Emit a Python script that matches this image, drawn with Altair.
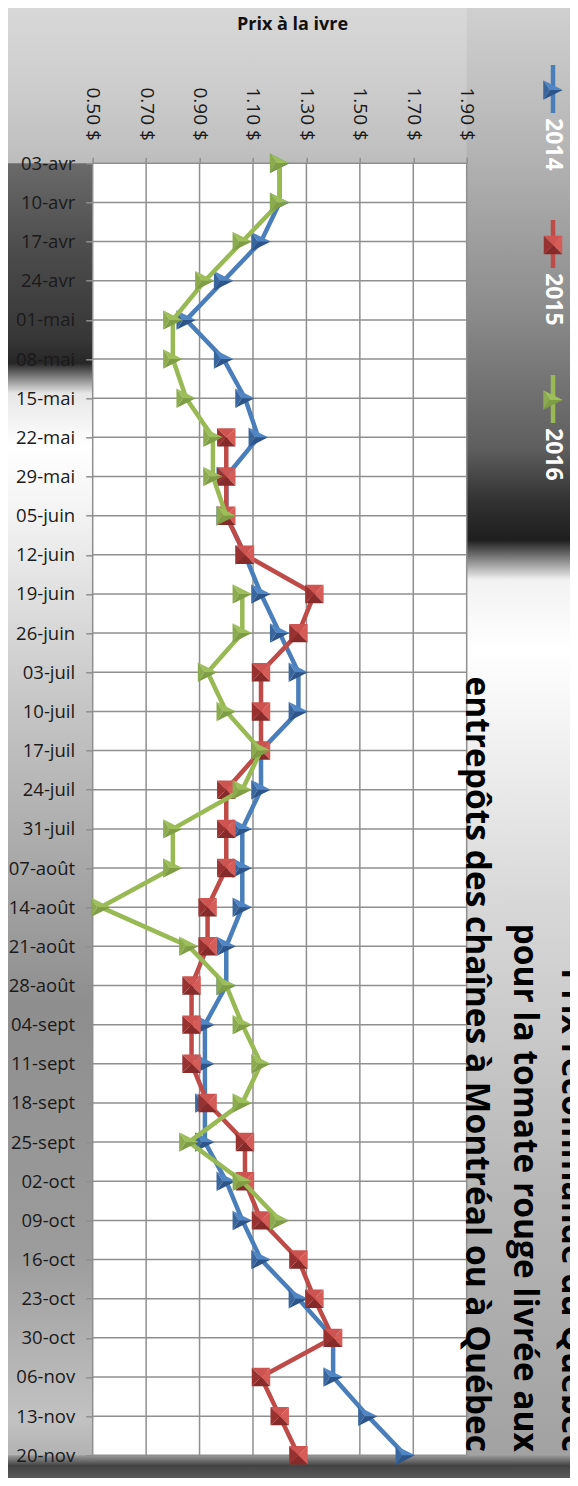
import altair as alt
import pandas as pd

# ---------------- data ----------------
dates = ["03-avr", "10-avr", "17-avr", "24-avr", "01-mai", "08-mai", "15-mai",
         "22-mai", "29-mai", "05-juin", "12-juin", "19-juin", "26-juin", "03-juil",
         "10-juil", "17-juil", "24-juil", "31-juil", "07-août", "14-août", "21-août",
         "28-août", "04-sept", "11-sept", "18-sept", "25-sept", "02-oct", "09-oct",
         "16-oct", "23-oct", "30-oct", "06-nov", "13-nov", "20-nov"]

price_2014 = [1.20, 1.20, 1.13, 0.99, 0.85, 0.99, 1.07, 1.12, 1.00, 1.00, 1.07, 1.13,
              1.20, 1.27, 1.27, 1.13, 1.13, 1.06, 1.06, 1.06, 1.00, 1.00, 0.92, 0.92,
              0.92, 0.92, 1.00, 1.06, 1.13, 1.27, 1.40, 1.40, 1.53, 1.67]

price_2015 = [None, None, None, None, None, None, None,
              1.00, 1.00, 1.00, 1.07, 1.33, 1.27, 1.13, 1.13, 1.13, 1.00, 1.00, 1.00,
              0.93, 0.93, 0.87, 0.87, 0.87, 0.93, 1.07, 1.07, 1.13, 1.27, 1.33, 1.40,
              1.13, 1.20, 1.27]

price_2016 = [1.20, 1.20, 1.06, 0.92, 0.80, 0.80, 0.85, 0.95, 0.95, 1.00, None, 1.06,
              1.06, 0.93, 1.00, 1.13, 1.06, 0.80, 0.80, 0.53, 0.86, 1.00, 1.06, 1.13,
              1.06, 0.86, 1.06, 1.20, None, None, None, None, None, None]

x_ticks = [0.50, 0.70, 0.90, 1.10, 1.30, 1.50, 1.70, 1.90]
series_names = ["2014", "2015", "2016"]
axis_title = "Prix à la ivre"
title_lines = ["Prix recommandé du Québec",
               "pour la tomate rouge livrée aux",
               "entrepôts des chaînes à Montréal ou à Québec"]

# ---------------- layout / style ----------------
W, H = 374, 1292
PAD_L, PAD_T, PAD_R, PAD_B = 84.7, 155.3, 103.3, 22.7
FONT = "Open Sans"
GRID = "#8f8f8f"

TRI = {"top": "M-1,-1L1,0L-0.33,0Z", "bottom": "M-1,1L1,0L-0.33,0Z", "left": "M-1,-1L-1,1L-0.33,0Z"}
SQ = {"top": "M-1,-1L1,-1L0,0Z", "right": "M1,-1L1,1L0,0Z",
      "bottom": "M-1,1L1,1L0,0Z", "left": "M-1,-1L-1,1L0,0Z"}

styles = {
    "2014": dict(line="#4A7EBB", shape=TRI, size=380,
                 facets={"top": "#5186C4", "bottom": "#2D5589", "left": "#3A669E"}),
    "2015": dict(line="#BE4B48", shape=SQ, size=340,
                 facets={"top": "#CD5450", "right": "#D65C58", "bottom": "#862B29", "left": "#983230"}),
    "2016": dict(line="#98B954", shape=TRI, size=380,
                 facets={"top": "#9DBE5A", "bottom": "#7F9D45", "left": "#8CAB4F"}),
}
values_by_series = {"2014": price_2014, "2015": price_2015, "2016": price_2016}


def series_frame(values):
    rows, seg = [], 0
    for i, (d, v) in enumerate(zip(dates, values)):
        if v is None:
            seg += 1
            continue
        rows.append({"date": d, "price": v, "seg": seg, "idx": i})
    return pd.DataFrame(rows)


one = pd.DataFrame({"k": [0]})

x_enc = alt.X("price:Q",
              scale=alt.Scale(domain=[x_ticks[0], x_ticks[-1]], nice=False, zero=False),
              axis=alt.Axis(orient="top", values=x_ticks,
                            labelExpr="format(datum.value, '.2f') + ' $'",
                            labelAngle=90, labelAlign="right", labelBaseline="middle",
                            labelFont=FONT, labelFontSize=19, labelColor="#1a1a1a",
                            labelPadding=17, tickSize=6, tickColor=GRID, tickWidth=1.5,
                            domain=False, grid=False, zindex=1,
                            title=axis_title, titleFont=FONT, titleFontSize=18,
                            titleFontWeight="bold", titleColor="#111111",
                            titleX=199.3, titleY=-134, titleAlign="center",
                            titleBaseline="alphabetic", labelOverlap=False))
y_enc = alt.Y("date:N",
              scale=alt.Scale(type="point", domain=dates, padding=0),
              axis=alt.Axis(title=None, labelFont=FONT, labelFontSize=18.5,
                            labelColor="#1a1a1a", labelPadding=11, tickSize=7,
                            tickColor=GRID, tickWidth=1.5, domain=False, grid=False,
                            zindex=1, labelAlign="right", labelBaseline="middle",
                            labelOverlap=False))


def grad(stops):
    return alt.LinearGradient(
        gradient="linear",
        stops=[alt.GradientStop(offset=o, color=c) for o, c in stops],
        x1=0, x2=0, y1=0, y2=1)


layers = []

# background decoration around the plot
layers.append(alt.Chart(one).mark_rect(fill=grad([(0, "#d8d8d8"), (0.5, "#cdcdcd"), (1, "#bdbdbd")])).encode(
    x=alt.value(-PAD_L), x2=alt.value(W + PAD_R), y=alt.value(-PAD_T), y2=alt.value(0)))
layers.append(alt.Chart(one).mark_rect(fill=grad([
    (0, "#6a6a6a"), (0.066, "#4c4c4c"), (0.135, "#363636"), (0.152, "#262626"),
    (0.175, "#e6e6e6"), (0.215, "#ffffff"), (0.27, "#f2f2f2"), (0.41, "#c6c6c6"),
    (0.64, "#8e8e8e"), (0.83, "#9c9c9c"), (0.955, "#c2c2c2"), (1, "#a8a8a8")])).encode(
    x=alt.value(-PAD_L), x2=alt.value(0), y=alt.value(0), y2=alt.value(H + PAD_B)))
layers.append(alt.Chart(one).mark_rect(fill=grad([
    (0, "#d0d0d0"), (0.097, "#b4b4b4"), (0.2, "#8e8e8e"), (0.30, "#5e5e5e"),
    (0.335, "#323232"), (0.362, "#1e1e1e"), (0.389, "#f2f2f2"), (0.437, "#ffffff"),
    (0.607, "#d8d8d8"), (0.81, "#b6b6b6"), (1, "#a0a0a0")])).encode(
    x=alt.value(W), x2=alt.value(W + PAD_R), y=alt.value(-PAD_T), y2=alt.value(H + PAD_B)))
layers.append(alt.Chart(one).mark_rect(fill=grad([(0, "#9a9a9a"), (0.45, "#444444"), (1, "#5a5a5a")])).encode(
    x=alt.value(-PAD_L), x2=alt.value(W + PAD_R), y=alt.value(H), y2=alt.value(H + PAD_B)))

# plot area + grid (through the scales)
layers.append(alt.Chart(one).mark_rect(fill="white").encode(
    x=alt.value(0), x2=alt.value(W), y=alt.value(0), y2=alt.value(H)))
layers.append(alt.Chart(pd.DataFrame({"price": x_ticks})).mark_rule(
    color=GRID, strokeWidth=1.5).encode(x=x_enc, y=alt.value(0), y2=alt.value(H)))
layers.append(alt.Chart(pd.DataFrame({"date": dates})).mark_rule(
    color=GRID, strokeWidth=1.5).encode(y=y_enc, x=alt.value(0), x2=alt.value(W)))

# series
for name in series_names:
    st = styles[name]
    df = series_frame(values_by_series[name])
    layers.append(alt.Chart(df).mark_line(color=st["line"], strokeWidth=4.5,
                                          strokeJoin="round").encode(
        x=x_enc, y=y_enc, detail="seg:N", order=alt.Order("idx:Q")))
    for facet, col in st["facets"].items():
        layers.append(alt.Chart(df).mark_point(
            shape=st["shape"][facet], filled=True, fill=col, size=st["size"],
            opacity=1, strokeWidth=0).encode(x=x_enc, y=y_enc))

# legend (rotated, to the right of the plot)
LEG_X = W + 86.3
LEG_Y0 = -73.3
LEG_STEP = 155
for i, name in enumerate(series_names):
    st = styles[name]
    cy = LEG_Y0 + i * LEG_STEP
    layers.append(alt.Chart(one).mark_rule(color=st["line"], strokeWidth=4.5).encode(
        x=alt.value(LEG_X), y=alt.value(cy - 25), y2=alt.value(cy + 23)))
    for facet, col in st["facets"].items():
        layers.append(alt.Chart(one).mark_point(
            shape=st["shape"][facet], filled=True, fill=col, size=st["size"],
            opacity=1, strokeWidth=0).encode(x=alt.value(LEG_X), y=alt.value(cy)))
    layers.append(alt.Chart(one).mark_text(
        text=name, angle=90, align="left", baseline="middle", font=FONT,
        fontSize=23, fontWeight="bold", color="white").encode(
        x=alt.value(LEG_X), y=alt.value(cy + 28)))

# rotated title (right side, partly cut off)
for i, line in enumerate(title_lines):
    layers.append(alt.Chart(one).mark_text(
        text=line, angle=90, align="right", baseline="middle", font=FONT,
        fontSize=33.5, fontWeight="bold", color="#000000").encode(
        x=alt.value(W + 105.3 - i * 48), y=alt.value(H - 3.3)))

chart = alt.layer(*layers).properties(
    width=W, height=H,
    padding={"left": PAD_L, "top": PAD_T, "right": PAD_R, "bottom": PAD_B},
    autosize=alt.AutoSizeParams(type="none"),
    background="#c4c4c4",
).configure_view(stroke=None, fill="white")

chart.save("out.html", embed_options={"renderer": "svg", "actions": False})
